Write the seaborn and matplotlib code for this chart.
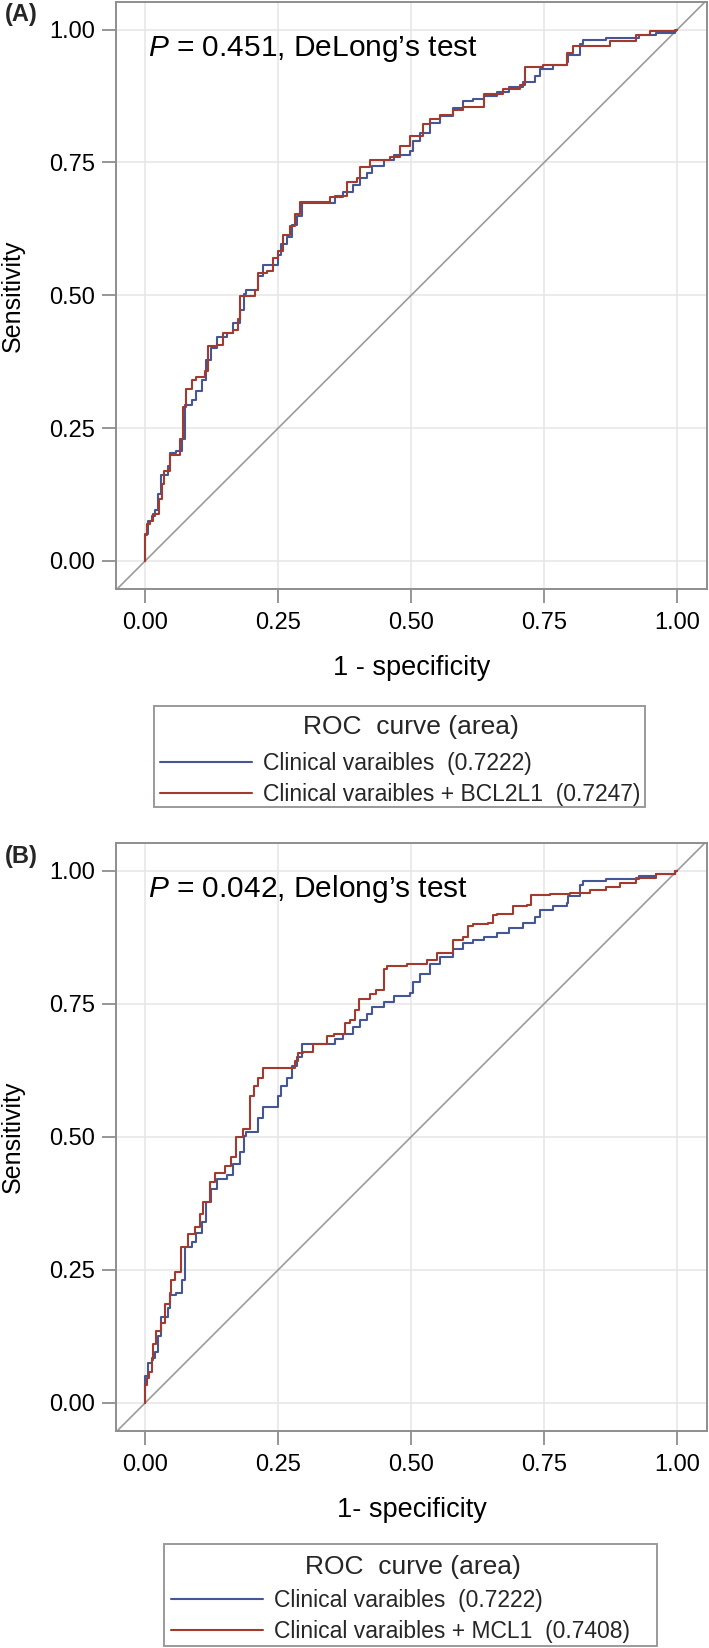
import matplotlib
matplotlib.use("Agg")
import matplotlib.pyplot as plt
import seaborn as sns
from matplotlib.lines import Line2D
from matplotlib.patches import Rectangle

# ---------------- data ----------------
tick_values = [0.0, 0.25, 0.5, 0.75, 1.0]
tick_labels = ["0.00", "0.25", "0.50", "0.75", "1.00"]

# Clinical variables (same model in both panels)
clin_fpr = [0.0, 0.0, 0.005, 0.013, 0.018, 0.024, 0.030, 0.043, 0.046, 0.058, 0.070, 0.074,
            0.087, 0.096, 0.106, 0.115, 0.124, 0.134, 0.153, 0.165, 0.178, 0.185, 0.190,
            0.212, 0.222, 0.250, 0.256, 0.266, 0.275, 0.285, 0.294, 0.357, 0.372, 0.391,
            0.404, 0.416, 0.426, 0.448, 0.467, 0.498, 0.504, 0.517, 0.536, 0.554, 0.579,
            0.598, 0.617, 0.636, 0.661, 0.683, 0.711, 0.733, 0.742, 0.767, 0.792, 0.795,
            0.817, 0.823, 0.867, 0.929, 0.961, 0.995, 1.0]
clin_tpr = [0.0, 0.05, 0.075, 0.085, 0.095, 0.125, 0.162, 0.179, 0.203, 0.206, 0.23, 0.293,
            0.303, 0.32, 0.34, 0.378, 0.401, 0.421, 0.428, 0.448, 0.472, 0.502, 0.509,
            0.536, 0.556, 0.576, 0.596, 0.61, 0.633, 0.65, 0.674, 0.684, 0.694, 0.707,
            0.72, 0.73, 0.744, 0.754, 0.764, 0.771, 0.791, 0.805, 0.825, 0.838, 0.852,
            0.865, 0.869, 0.875, 0.882, 0.892, 0.902, 0.912, 0.926, 0.934, 0.939, 0.953,
            0.973, 0.981, 0.985, 0.99, 0.993, 1.0, 1.0]

# Clinical variables + BCL2L1
bcl_fpr = [0.0, 0.0, 0.0025, 0.008, 0.014, 0.026, 0.031, 0.036, 0.046, 0.065, 0.071, 0.077,
           0.087, 0.096, 0.112, 0.118, 0.134, 0.146, 0.165, 0.175, 0.178, 0.206, 0.212,
           0.228, 0.240, 0.250, 0.259, 0.272, 0.281, 0.291, 0.347, 0.357, 0.379, 0.398,
           0.404, 0.423, 0.461, 0.479, 0.498, 0.523, 0.536, 0.554, 0.579, 0.598, 0.636,
           0.673, 0.704, 0.714, 0.748, 0.792, 0.804, 0.873, 0.923, 0.948, 0.998, 1.0]
bcl_tpr = [0.0, 0.048, 0.07, 0.075, 0.089, 0.117, 0.145, 0.169, 0.20, 0.23, 0.29, 0.324,
           0.34, 0.347, 0.357, 0.404, 0.407, 0.428, 0.435, 0.455, 0.499, 0.509, 0.542,
           0.546, 0.57, 0.583, 0.613, 0.63, 0.653, 0.675, 0.684, 0.687, 0.714, 0.72,
           0.741, 0.754, 0.761, 0.781, 0.80, 0.822, 0.832, 0.84, 0.849, 0.855, 0.879,
           0.889, 0.896, 0.929, 0.933, 0.956, 0.97, 0.978, 0.99, 0.997, 1.0, 1.0]

# Clinical variables + MCL1
mcl_fpr = [0.0, 0.0, 0.0025, 0.0075, 0.013, 0.015, 0.021, 0.030, 0.038, 0.046, 0.049, 0.055,
           0.068, 0.080, 0.093, 0.102, 0.109, 0.121, 0.131, 0.150, 0.162, 0.171, 0.184,
           0.197, 0.204, 0.212, 0.222, 0.281, 0.288, 0.297, 0.316, 0.341, 0.354, 0.376,
           0.385, 0.395, 0.401, 0.423, 0.433, 0.448, 0.454, 0.492, 0.529, 0.548, 0.579,
           0.598, 0.6075, 0.617, 0.645, 0.654, 0.661, 0.692, 0.717, 0.726, 0.761, 0.798,
           0.836, 0.867, 0.892, 0.923, 0.961, 0.995, 1.0]
mcl_tpr = [0.0, 0.033, 0.046, 0.058, 0.08, 0.11, 0.135, 0.15, 0.186, 0.206, 0.23, 0.246,
           0.293, 0.317, 0.33, 0.354, 0.378, 0.415, 0.431, 0.445, 0.462, 0.499, 0.515,
           0.576, 0.596, 0.61, 0.63, 0.643, 0.657, 0.66, 0.674, 0.69, 0.693, 0.714,
           0.72, 0.738, 0.758, 0.768, 0.775, 0.815, 0.82, 0.825, 0.832, 0.845, 0.869,
           0.875, 0.896, 0.9, 0.902, 0.916, 0.919, 0.933, 0.936, 0.954, 0.956, 0.958,
           0.963, 0.97, 0.976, 0.987, 0.993, 1.0, 1.0]

label_clin = "Clinical varaibles  (0.7222)"
label_bcl = "Clinical varaibles + BCL2L1  (0.7247)"
label_mcl = "Clinical varaibles + MCL1  (0.7408)"
legend_title = "ROC  curve (area)"
annot_A = "$\\it{P}$ = 0.451, DeLong\u2019s test"
annot_B = "$\\it{P}$ = 0.042, Delong\u2019s test"
xlabel_A = "1 - specificity"
xlabel_B = "1- specificity"
ylabel = "Sensitivity"

# ---------------- style ----------------
sns.set_theme(style="white")
plt.rcParams['font.family'] = ['Liberation Sans', 'DejaVu Sans']
plt.rcParams['mathtext.fontset'] = 'custom'
plt.rcParams['mathtext.it'] = 'Liberation Sans:italic'
plt.rcParams['mathtext.rm'] = 'Liberation Sans'

BLUE = "#445694"
RED = "#A23A2E"
FRAME = "#8E8E8E"
GRID = "#E5E5E5"
DIAG = "#9B9B9B"
LEGFRAME = "#9A9A9A"
W, H = 709, 1648

fig = plt.figure(figsize=(W / 100, H / 100), dpi=100)
axA = fig.add_axes([116 / W, 1 - 589 / H, 591 / W, 587 / H])
axB = fig.add_axes([116 / W, 1 - 1431 / H, 591 / W, 588 / H])

# legend geometry in pixels: box (x0, y0, x1, y1), title centre, handle start x, first entry centre y
panels = [
    dict(ax=axA, fpr=bcl_fpr, tpr=bcl_tpr, label=label_bcl, annot=annot_A, plabel="(A)", py=15,
         xlab=xlabel_A, box=(154, 706, 645, 807), title_xy=(411, 727), entry_xy=(160, 762)),
    dict(ax=axB, fpr=mcl_fpr, tpr=mcl_tpr, label=label_mcl, annot=annot_B, plabel="(B)", py=857,
         xlab=xlabel_B, box=(164, 1544, 657, 1646), title_xy=(413, 1567), entry_xy=(171, 1599)),
]

for p in panels:
    ax = p["ax"]
    ax.set_xlim(-0.055, 1.056)
    ax.set_ylim(-0.053, 1.052)
    ax.set_xticks(tick_values)
    ax.set_xticklabels(tick_labels)
    ax.set_yticks(tick_values)
    ax.set_yticklabels(tick_labels)
    ax.grid(True, color=GRID, linewidth=1.1)
    ax.set_axisbelow(True)
    for s in ax.spines.values():
        s.set_color(FRAME)
        s.set_linewidth(1.4)
    ax.tick_params(axis='both', which='major', bottom=True, left=True, direction='out',
                   length=10, width=1.3, color=FRAME, labelsize=17, labelcolor='black')
    ax.tick_params(axis='x', pad=6.5)
    ax.tick_params(axis='y', pad=5)

    ax.axline((0, 0), (1, 1), color=DIAG, linewidth=1.2, zorder=1.5)

    sns.lineplot(x=clin_fpr, y=clin_tpr, sort=False, estimator=None, drawstyle='steps-post',
                 color=BLUE, linewidth=1.5, ax=ax, legend=False, zorder=3)
    sns.lineplot(x=p["fpr"], y=p["tpr"], sort=False, estimator=None, drawstyle='steps-post',
                 color=RED, linewidth=1.5, ax=ax, legend=False, zorder=4)

    ax.set_xlabel(p["xlab"], fontsize=19.5, color='black')
    ax.xaxis.set_label_coords(0.5, -0.113)
    ax.set_ylabel(ylabel, fontsize=18, color='black')
    ax.yaxis.set_label_coords(-0.155, 0.5)

    ax.text(0.005, 0.951, p["annot"], fontsize=21.5, va='baseline', ha='left', color='black')

    fig.text(5 / W, 1 - p["py"] / H, p["plabel"], fontsize=17, fontweight='bold',
             va='center', ha='left')

    # legend: frame, title and entries
    x0, y0, x1, y1 = p["box"]
    fig.patches.append(Rectangle((x0 / W, 1 - y1 / H), (x1 - x0) / W, (y1 - y0) / H,
                                 transform=fig.transFigure, fill=False,
                                 edgecolor=LEGFRAME, linewidth=1.4, zorder=5))
    tx, ty = p["title_xy"]
    fig.text(tx / W, 1 - ty / H, legend_title, fontsize=19, ha='center', va='center')
    hx, ey = p["entry_xy"]
    handles = [Line2D([], [], color=BLUE, linewidth=1.5), Line2D([], [], color=RED, linewidth=1.5)]
    fig.legend(handles, [label_clin, p["label"]], loc='upper left',
               bbox_to_anchor=(hx / W, 1 - (ey - 10) / H), bbox_transform=fig.transFigure,
               borderaxespad=0, borderpad=0, fontsize=16.5, handlelength=4.0,
               handletextpad=0.5, labelspacing=0.36, frameon=False)

fig.savefig("out.png", dpi=100)
